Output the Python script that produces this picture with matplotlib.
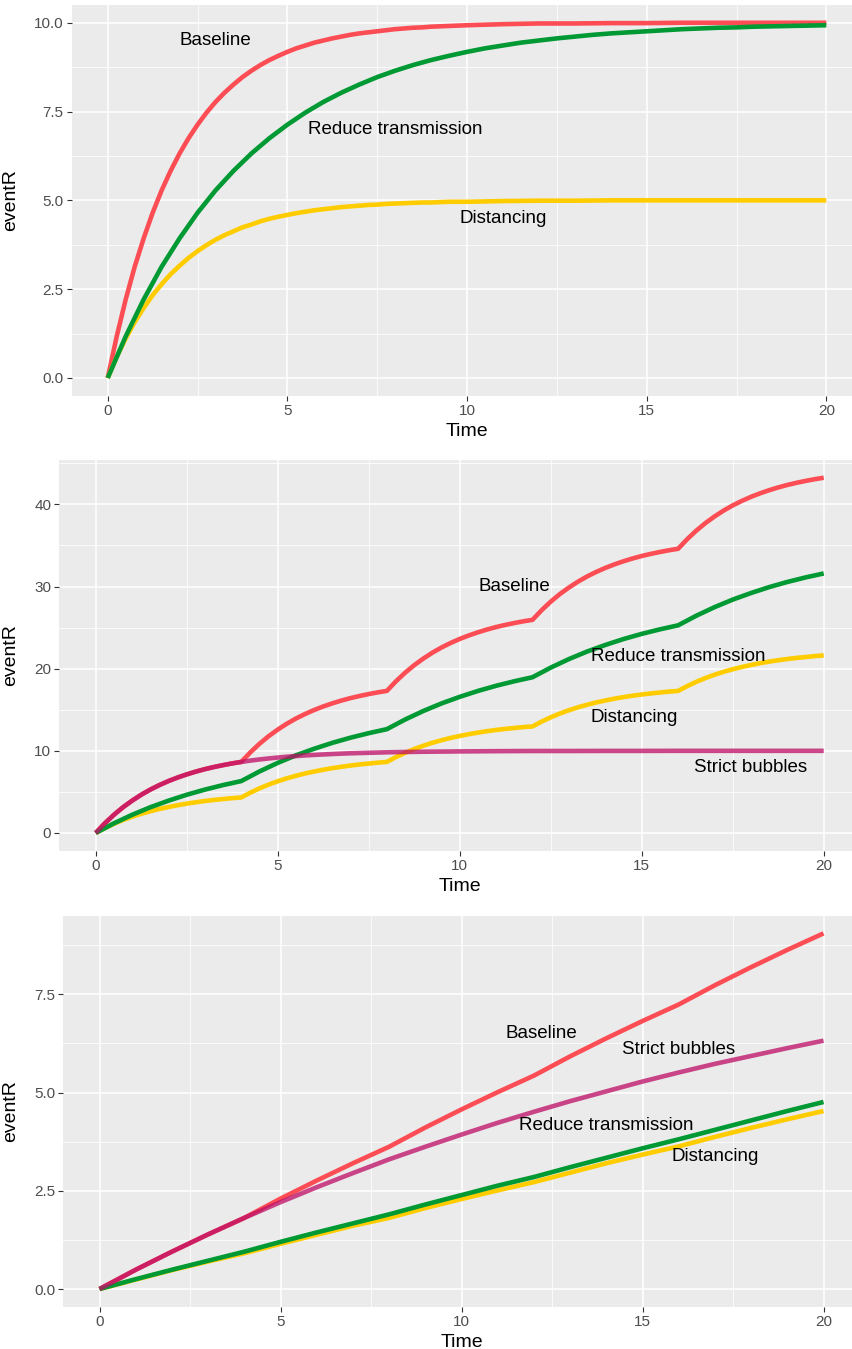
import matplotlib
matplotlib.use("Agg")
import matplotlib.pyplot as plt
from matplotlib.ticker import FixedLocator

plt.rcParams['font.family'] = ['Liberation Sans', 'DejaVu Sans']

# ---------------- data ----------------
series_names = ["Baseline", "Distancing", "Reduce transmission", "Strict bubbles"]

# time grids
t_fine = [i * 0.25 for i in range(41)] + list(range(11, 21))   # 0..10 step .25, then 11..20
t_half = [i * 0.5 for i in range(41)]                           # 0..20 step .5
t_quarter = [i * 0.25 for i in range(81)]                       # 0..20 step .25
t_unit = list(range(21))                                        # 0..20 step 1

# Panel 1
p1_baseline = [0, 1.17, 2.21, 3.13, 3.93, 4.65, 5.28, 5.83, 6.32, 6.75, 7.13, 7.47, 7.77, 8.03,
               8.26, 8.47, 8.65, 8.81, 8.95, 9.07, 9.18, 9.28, 9.36, 9.44, 9.50, 9.56, 9.61, 9.66,
               9.70, 9.73, 9.76, 9.79, 9.82, 9.84, 9.86, 9.87, 9.89, 9.90, 9.91, 9.92, 9.93,
               9.96, 9.98, 9.98, 9.99, 9.99, 10.0, 10.0, 10.0, 10.0, 10.0]
p1_distancing = [0, 0.59, 1.11, 1.57, 1.97, 2.33, 2.64, 2.92, 3.16, 3.38, 3.57, 3.74, 3.89, 4.02,
                 4.13, 4.24, 4.32, 4.41, 4.48, 4.54, 4.59, 4.64, 4.68, 4.72, 4.75, 4.78, 4.81, 4.83,
                 4.85, 4.87, 4.88, 4.90, 4.91, 4.92, 4.93, 4.94, 4.94, 4.95, 4.96, 4.96, 4.96,
                 4.98, 4.99, 4.99, 5.0, 5.0, 5.0, 5.0, 5.0, 5.0, 5.0]
p1_reduce = [0, 1.17, 2.21, 3.13, 3.93, 4.65, 5.28, 5.83, 6.32, 6.75, 7.13, 7.47, 7.77, 8.03,
             8.26, 8.47, 8.65, 8.81, 8.95, 9.07, 9.18, 9.28, 9.36, 9.44, 9.50, 9.56, 9.61, 9.66,
             9.70, 9.73, 9.76, 9.79, 9.82, 9.84, 9.86, 9.87, 9.89, 9.90, 9.91, 9.92, 9.93]

# Panel 2
p2_baseline = [0, 1.17, 2.21, 3.13, 3.93, 4.65, 5.28, 5.83, 6.32, 6.75, 7.13, 7.47, 7.77, 8.03, 8.26, 8.47, 8.65,
               9.82, 10.86, 11.78, 12.58, 13.30, 13.93, 14.48, 14.97, 15.40, 15.78, 16.12, 16.42, 16.68, 16.91, 17.12, 17.30,
               18.47, 19.51, 20.43, 21.23, 21.95, 22.58, 23.13, 23.62, 24.05, 24.43, 24.77, 25.07, 25.33, 25.56, 25.77, 25.95,
               27.12, 28.16, 29.08, 29.88, 30.60, 31.23, 31.78, 32.27, 32.70, 33.08, 33.42, 33.72, 33.98, 34.21, 34.42, 34.60,
               35.77, 36.81, 37.73, 38.53, 39.25, 39.88, 40.43, 40.92, 41.35, 41.73, 42.07, 42.37, 42.63, 42.86, 43.07, 43.25]
p2_distancing = [0, 0.59, 1.11, 1.57, 1.97, 2.33, 2.64, 2.92, 3.16, 3.38, 3.57, 3.74, 3.89, 4.02, 4.13, 4.24, 4.32,
                 4.91, 5.43, 5.89, 6.29, 6.65, 6.96, 7.24, 7.48, 7.70, 7.89, 8.06, 8.21, 8.34, 8.45, 8.56, 8.65,
                 9.24, 9.76, 10.22, 10.62, 10.98, 11.29, 11.57, 11.81, 12.03, 12.22, 12.39, 12.54, 12.67, 12.78, 12.89, 12.97,
                 13.56, 14.08, 14.54, 14.94, 15.30, 15.61, 15.89, 16.13, 16.35, 16.54, 16.71, 16.86, 16.99, 17.10, 17.21, 17.29,
                 17.88, 18.40, 18.86, 19.26, 19.62, 19.93, 20.21, 20.45, 20.67, 20.86, 21.03, 21.18, 21.31, 21.42, 21.53, 21.62]
p2_reduce = [0, 1.17, 2.21, 3.13, 3.93, 4.65, 5.28, 5.83, 6.32,
             7.49, 8.53, 9.45, 10.25, 10.97, 11.60, 12.15, 12.64,
             13.81, 14.85, 15.77, 16.57, 17.29, 17.92, 18.47, 18.96,
             20.13, 21.17, 22.09, 22.89, 23.61, 24.24, 24.79, 25.28,
             26.45, 27.49, 28.41, 29.21, 29.93, 30.56, 31.11, 31.60]
p2_strict = [0, 1.17, 2.21, 3.13, 3.93, 4.65, 5.28, 5.83, 6.32, 6.75, 7.13, 7.47, 7.77, 8.03,
             8.26, 8.47, 8.65, 8.81, 8.95, 9.07, 9.18, 9.28, 9.36, 9.44, 9.50, 9.56, 9.61, 9.66,
             9.70, 9.73, 9.76, 9.79, 9.82, 9.84, 9.86, 9.87, 9.89, 9.90, 9.91, 9.92, 9.93,
             9.96, 9.98, 9.98, 9.99, 9.99, 10.0, 10.0, 10.0, 10.0, 10.0]

# Panel 3
p3_baseline = [0, 0.49, 0.95, 1.39, 1.81, 2.30, 2.76, 3.20, 3.62, 4.11, 4.57, 5.01, 5.43,
               5.92, 6.38, 6.82, 7.24, 7.73, 8.19, 8.63, 9.05]
p3_distancing = [0, 0.24, 0.48, 0.70, 0.91, 1.15, 1.38, 1.61, 1.81, 2.06, 2.29, 2.51, 2.72,
                 2.96, 3.20, 3.42, 3.63, 3.87, 4.10, 4.32, 4.53]
p3_reduce = [0, 0.25, 0.49, 0.72, 0.95, 1.20, 1.44, 1.67, 1.90, 2.15, 2.39, 2.63, 2.85,
             3.10, 3.34, 3.58, 3.81, 4.05, 4.29, 4.53, 4.76]
p3_strict = [0, 0.49, 0.95, 1.39, 1.81, 2.21, 2.59, 2.95, 3.30, 3.62, 3.93, 4.23, 4.51,
             4.78, 5.03, 5.28, 5.51, 5.73, 5.93, 6.13, 6.32]

# label positions (data coords)
p1_labels = {"Baseline": (3, 9.5), "Reduce transmission": (8, 7.0), "Distancing": (11, 4.5)}
p2_labels = {"Baseline": (11.5, 30), "Reduce transmission": (16, 21.5),
             "Distancing": (14.8, 14), "Strict bubbles": (18, 8)}
p3_labels = {"Baseline": (12.2, 6.5), "Strict bubbles": (16, 6.1),
             "Reduce transmission": (14, 4.15), "Distancing": (17, 3.36)}

# ---------------- style ----------------
colors = {"Baseline": "#FC4D55", "Distancing": "#FFCC00",
          "Reduce transmission": "#009933", "Strict bubbles": "#BE1268"}
alphas = {"Baseline": 1.0, "Distancing": 1.0, "Reduce transmission": 1.0, "Strict bubbles": 0.77}

W, H = 852, 1349
fig = plt.figure(figsize=(W / 100, H / 100), dpi=100)
fig.patch.set_facecolor("white")

def px_axes(left, right, top, bottom):
    return fig.add_axes([left / W, 1 - bottom / H, (right - left) / W, (bottom - top) / H])

def style(ax, ylim, ymajor, yminor, yfmt):
    ax.set_facecolor("#EBEBEB")
    for s in ax.spines.values():
        s.set_visible(False)
    ax.set_xlim(-1, 21)
    ax.set_ylim(*ylim)
    ax.xaxis.set_major_locator(FixedLocator([0, 5, 10, 15, 20]))
    ax.xaxis.set_minor_locator(FixedLocator([2.5, 7.5, 12.5, 17.5]))
    ax.yaxis.set_major_locator(FixedLocator(ymajor))
    ax.yaxis.set_minor_locator(FixedLocator(yminor))
    ax.set_xticklabels(["0", "5", "10", "15", "20"])
    ax.set_yticklabels([yfmt(v) for v in ymajor])
    ax.grid(which="major", color="white", linewidth=1.1)
    ax.grid(which="minor", color="white", linewidth=0.55)
    ax.set_axisbelow(True)
    ax.tick_params(which="major", length=3.6, width=0.8, color="#333333",
                   labelsize=11, labelcolor="#4D4D4D", pad=2.2)
    ax.tick_params(which="minor", length=0)
    ax.set_xlabel("Time", fontsize=14, labelpad=3.5)
    ax.set_ylabel("eventR", fontsize=14)

def draw(ax, data, labels):
    for name in series_names:
        if name in data:
            t, v = data[name]
            ax.plot(t, v, color=colors[name], alpha=alphas[name],
                    linewidth=3.3, solid_capstyle="butt", solid_joinstyle="round")
    for name, (x, y) in labels.items():
        ax.text(x, y, name, fontsize=13.5, ha="center", va="center", color="black")

ax1 = px_axes(71.8, 71.8 + 22 * 35.93, 5, 395.7)
style(ax1, (-0.5, 10.5), [0, 2.5, 5, 7.5, 10], [1.25, 3.75, 6.25, 8.75],
      lambda v: f"{v:.1f}")
draw(ax1, {"Baseline": (t_fine, p1_baseline), "Distancing": (t_fine, p1_distancing),
           "Reduce transmission": (t_half, p1_reduce)}, p1_labels)

ax2 = px_axes(59.3, 59.3 + 22 * 36.4, 460, 850.7)
style(ax2, (-2.16, 45.41), [0, 10, 20, 30, 40], [5, 15, 25, 35, 45],
      lambda v: f"{v:.0f}")
draw(ax2, {"Baseline": (t_quarter, p2_baseline), "Distancing": (t_quarter, p2_distancing),
           "Reduce transmission": (t_half, p2_reduce), "Strict bubbles": (t_fine, p2_strict)},
     p2_labels)

ax3 = px_axes(63.3, 63.3 + 22 * 36.2, 915.7, 1306.7)
style(ax3, (-0.45, 9.50), [0, 2.5, 5, 7.5], [1.25, 3.75, 6.25, 8.75],
      lambda v: f"{v:.1f}")
draw(ax3, {"Baseline": (t_unit, p3_baseline), "Distancing": (t_unit, p3_distancing),
           "Reduce transmission": (t_unit, p3_reduce), "Strict bubbles": (t_unit, p3_strict)},
     p3_labels)

for ax in (ax1, ax2, ax3):
    pos = ax.get_position()
    ax.yaxis.set_label_coords(-(pos.x0 * W - 19) / (pos.width * W), 0.5)

fig.savefig("out.png", dpi=100, facecolor="white")
